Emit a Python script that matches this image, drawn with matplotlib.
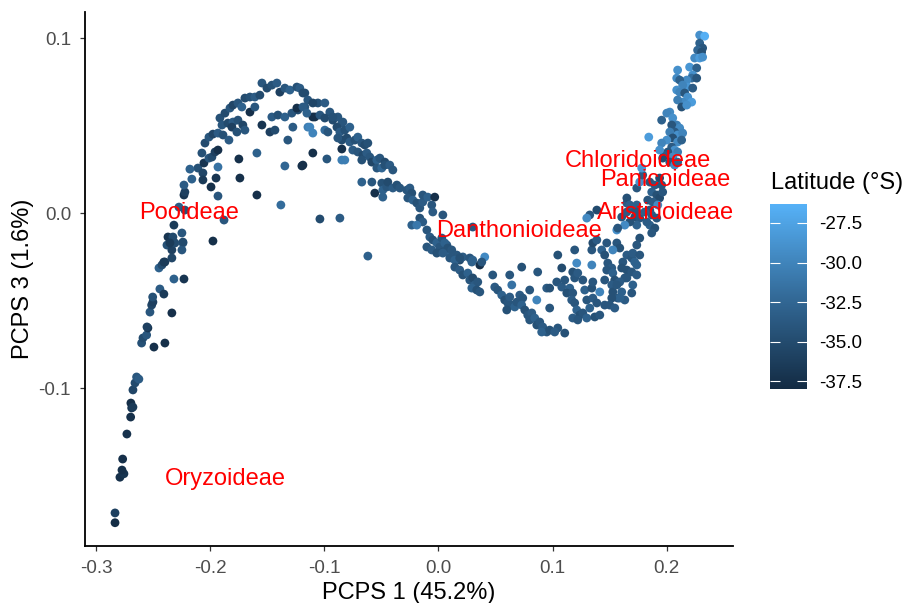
import matplotlib
matplotlib.use("Agg")
import matplotlib.pyplot as plt
import numpy as np
from matplotlib.colors import LinearSegmentedColormap, Normalize

plt.rcParams['font.family'] = ['Liberation Sans', 'DejaVu Sans']

# (PCPS1, PCPS3, latitude), grouped by region of the curve
tail = [
    (-0.2833, -0.177, -37.8), (-0.2833, -0.1714, -36.0), (-0.279, -0.151, -37.5),
    (-0.2755, -0.149, -37.0), (-0.2772, -0.1469, -37.5), (-0.2766, -0.1406, -37.5),
    (-0.2729, -0.1263, -37.3), (-0.2696, -0.1166, -37.5), (-0.2687, -0.1114, -37.0),
    (-0.2694, -0.1086, -37.6), (-0.2676, -0.1109, -36.5), (-0.2676, -0.1011, -35.5),
    (-0.2658, -0.0971, -35.0), (-0.2644, -0.0937, -34.0), (-0.2624, -0.0949, -33.5),
    (-0.26, -0.0743, -34.5), (-0.2588, -0.0714, -35.0), (-0.2556, -0.0697, -34.0),
    (-0.2545, -0.0657, -37.0), (-0.2553, -0.0651, -36.0), (-0.2492, -0.0766, -37.5),
    (-0.2396, -0.0743, -37.5), (-0.2527, -0.0566, -34.0), (-0.2512, -0.0526, -35.5),
    (-0.2501, -0.0509, -36.0), (-0.2503, -0.048, -34.5), (-0.2335, -0.0571, -37.5),
    (-0.2440, -0.0434, -33.5), (-0.2405, -0.0463, -36.5), (-0.2448, -0.0314, -33.0),
    (-0.2422, -0.0297, -35.0), (-0.2405, -0.028, -36.5), (-0.2317, -0.0377, -33.0),
    (-0.2229, -0.0377, -37.0), (-0.2378, -0.0183, -34.5), (-0.2335, -0.0211, -36.0),
    (-0.2308, -0.0171, -35.0), (-0.2247, -0.0211, -34.0), (-0.2238, -0.0171, -33.5),
]

pooid = [
    (-0.2396, -0.0280, -36.5), (-0.2335, -0.0257, -35.5), (-0.2369, -0.0137, -37.0),
    (-0.2326, -0.0137, -35.0), (-0.2352, -0.0171, -36.5), (-0.2247, -0.0114, -34.0),
    (-0.2238, -0.0166, -35.0), (-0.2317, -0.0069, -36.5), (-0.2273, 0.0034, -33.5),
    (-0.2221, 0.0017, -34.5), (-0.2229, 0.0103, -37.0), (-0.2221, 0.0120, -36.0),
    (-0.1975, -0.0160, -37.5), (-0.1878, -0.0040, -34.0), (-0.2229, 0.0160, -33.5),
    (-0.2160, 0.0194, -33.0), (-0.2107, 0.0257, -34.5), (-0.2177, 0.0251, -33.0),
    (-0.2063, 0.0229, -35.5), (-0.2054, 0.0286, -37.0), (-0.2063, 0.0189, -36.5),
    (-0.2010, 0.0314, -34.0), (-0.1984, 0.0320, -35.0), (-0.1957, 0.0349, -36.0),
    (-0.1931, 0.0360, -37.5), (-0.1931, 0.0263, -31.5), (-0.1948, 0.0200, -37.0),
    (-0.1992, 0.0149, -37.5), (-0.1931, 0.0097, -34.0), (-0.2072, 0.0343, -34.5),
    (-0.2045, 0.0400, -35.0), (-0.2010, 0.0434, -34.0), (-0.1975, 0.0451, -35.5),
    (-0.1931, 0.0457, -33.5), (-0.1887, 0.0446, -34.5), (-0.1835, 0.0417, -33.5),
]

inner = [
    (-0.1748, 0.0309, -37.5), (-0.1739, 0.0200, -37.5), (-0.1590, 0.0103, -37.5),
    (-0.1380, 0.0046, -32.0), (-0.1590, 0.0343, -33.0), (-0.1345, 0.0269, -32.5),
    (-0.1196, 0.0269, -37.5), (-0.1100, 0.0343, -37.5), (-0.0977, 0.0309, -34.0),
    (-0.1038, -0.0034, -35.0), (-0.0863, -0.0029, -33.5), (-0.0618, -0.0246, -33.0),
]

crest = [
    (-0.1914, 0.0543, -34.5), (-0.1870, 0.0571, -35.0), (-0.1826, 0.0600, -34.0),
    (-0.1800, 0.0617, -35.5), (-0.1756, 0.0629, -34.0), (-0.1722, 0.0606, -33.0),
    (-0.1695, 0.0657, -35.0), (-0.1651, 0.0663, -34.5), (-0.1608, 0.0663, -33.5),
    (-0.1564, 0.0674, -35.0), (-0.1546, 0.0743, -34.0), (-0.1502, 0.0714, -35.0),
    (-0.1459, 0.0731, -34.5), (-0.1415, 0.0743, -33.5), (-0.1389, 0.0691, -36.0),
    (-0.1345, 0.0714, -34.0), (-0.1301, 0.0703, -33.0), (-0.1240, 0.0720, -34.5),
    (-0.1214, 0.0714, -33.5), (-0.1170, 0.0686, -35.0), (-0.1896, 0.0503, -34.0),
    (-0.1844, 0.0514, -35.0), (-0.1800, 0.0520, -33.5), (-0.1756, 0.0531, -34.5),
    (-0.1713, 0.0503, -35.5), (-0.1695, 0.0474, -34.0), (-0.1809, 0.0491, -36.0),
    (-0.1765, 0.0463, -34.5), (-0.1651, 0.0577, -37.5), (-0.1608, 0.0606, -34.0),
    (-0.1546, 0.0503, -37.0), (-0.1476, 0.0463, -36.0), (-0.1432, 0.0474, -35.0),
    (-0.1459, 0.0549, -33.5), (-0.1406, 0.0560, -34.5), (-0.1345, 0.0549, -33.0),
    (-0.1284, 0.0571, -34.0), (-0.1231, 0.0589, -35.0), (-0.1170, 0.0606, -34.0),
    (-0.1240, 0.0600, -37.5), (-0.1319, 0.0417, -34.0), (-0.1275, 0.0491, -33.5),
    (-0.1143, 0.0491, -30.5), (-0.1100, 0.0457, -30.0), (-0.1100, 0.0549, -37.5),
    (-0.1056, 0.0629, -34.5), (-0.0995, 0.0629, -33.5), (-0.0995, 0.0474, -32.0),
    (-0.0951, 0.0577, -34.0), (-0.0925, 0.0531, -35.0), (-0.0881, 0.0549, -34.0),
    (-0.0846, 0.0514, -33.5), (-0.0846, 0.0417, -35.0), (-0.0846, 0.0303, -30.5),
]

descent = [
    (-0.1187, 0.0686, -35.0), (-0.1144, 0.0646, -34.0), (-0.1187, 0.0606, -33.5),
    (-0.1100, 0.0629, -35.5), (-0.1152, 0.0571, -33.0), (-0.1082, 0.0549, -37.5),
    (-0.1038, 0.0560, -34.0), (-0.0995, 0.0543, -35.0), (-0.0925, 0.0549, -34.5),
    (-0.0837, 0.0520, -34.0), (-0.1126, 0.0491, -30.0), (-0.0968, 0.0463, -34.0),
    (-0.0889, 0.0491, -35.0), (-0.0863, 0.0463, -33.5), (-0.0820, 0.0474, -34.5),
    (-0.0776, 0.0491, -33.0), (-0.1187, 0.0274, -37.5), (-0.0846, 0.0366, -37.5),
    (-0.0820, 0.0303, -30.5), (-0.0881, 0.0429, -34.0), (-0.0802, 0.0429, -35.0),
    (-0.0776, 0.0406, -33.5), (-0.0732, 0.0417, -34.5), (-0.0706, 0.0434, -33.0),
    (-0.0671, 0.0400, -34.0), (-0.0645, 0.0389, -35.0), (-0.0618, 0.0400, -34.5),
    (-0.0750, 0.0360, -33.5), (-0.0706, 0.0349, -34.0), (-0.0662, 0.0331, -35.0),
    (-0.0627, 0.0343, -33.5), (-0.0671, 0.0303, -34.5), (-0.0601, 0.0320, -34.0),
    (-0.0583, 0.0291, -35.5), (-0.0539, 0.0303, -33.0), (-0.0513, 0.0314, -34.0),
    (-0.0469, 0.0291, -35.0), (-0.0539, 0.0257, -34.0), (-0.0496, 0.0257, -32.5),
    (-0.0469, 0.0274, -34.5), (-0.0426, 0.0274, -33.5), (-0.0399, 0.0246, -34.0),
    (-0.0671, 0.0177, -33.0), (-0.0583, 0.0177, -34.0), (-0.0557, 0.0114, -37.5),
    (-0.0496, 0.0171, -34.5), (-0.0487, 0.0131, -33.0), (-0.0452, 0.0149, -34.0),
    (-0.0443, 0.0177, -35.0), (-0.0399, 0.0143, -33.5), (-0.0364, 0.0160, -34.5),
    (-0.0338, 0.0143, -34.0), (-0.0487, 0.0091, -33.0), (-0.0277, 0.0131, -34.0),
    (-0.0250, 0.0143, -33.5), (-0.0233, 0.0114, -34.5), (-0.0268, 0.0086, -34.0),
    (-0.0224, 0.0074, -33.0), (-0.0189, 0.0057, -34.5), (-0.0163, 0.0029, -34.0),
    (-0.0137, 0.0063, -33.5), (-0.0137, 0.0103, -34.0), (-0.0093, 0.0091, -33.0),
    (-0.0032, 0.0091, -37.5), (-0.0058, 0.0046, -34.0), (-0.0049, 0.0006, -33.5),
    (0.0039, -0.0011, -34.0), (-0.0163, -0.0029, -34.5), (-0.0137, -0.0051, -33.5),
    (-0.0233, -0.0069, -33.0), (-0.0189, -0.0069, -31.0), (-0.0101, -0.0097, -34.0),
    (-0.0075, -0.0137, -33.5), (-0.0049, -0.0154, -34.5), (-0.0014, -0.0171, -33.0),
    (0.0012, -0.0194, -34.0), (0.0074, -0.0183, -33.5), (0.0039, -0.0223, -34.5),
    (0.0100, -0.0229, -33.0), (0.0161, -0.0240, -34.0), (0.0187, -0.0269, -35.0),
    (0.0214, -0.0251, -33.5), (0.0275, -0.0257, -34.0), (0.0301, -0.0269, -33.0),
    (0.0363, -0.0297, -37.5), (0.0406, -0.0251, -29.5), (0.0301, -0.0080, -34.0),
    (-0.0101, -0.0194, -34.0), (-0.0058, -0.0211, -33.5), (-0.0014, -0.0229, -34.5),
]

trough = [
    (0.0030, -0.0143, -34.0), (0.0056, -0.0171, -33.0), (0.0082, -0.0200, -34.5),
    (0.0117, -0.0211, -34.0), (0.0039, -0.0229, -33.5), (0.0100, -0.0257, -34.0),
    (0.0144, -0.0269, -33.0), (0.0187, -0.0257, -34.5), (0.0144, -0.0309, -34.0),
    (0.0187, -0.0326, -33.5), (0.0214, -0.0354, -34.5), (0.0258, -0.0343, -33.0),
    (0.0275, -0.0383, -34.0), (0.0301, -0.0371, -35.0), (0.0319, -0.0411, -33.5),
    (0.0345, -0.0394, -34.0), (0.0293, -0.0429, -33.0), (0.0336, -0.0440, -34.5),
    (0.0363, -0.0451, -34.0), (0.0380, -0.0280, -34.0), (0.0293, -0.0280, -33.0),
    (0.0476, -0.0354, -34.0), (0.0494, -0.0423, -33.5), (0.0520, -0.0440, -34.0),
    (0.0555, -0.0469, -33.0), (0.0581, -0.0497, -34.5), (0.0608, -0.0514, -34.0),
    (0.0625, -0.0480, -33.5), (0.0643, -0.0526, -34.0), (0.0669, -0.0537, -33.0),
    (0.0599, -0.0554, -34.5), (0.0687, -0.0509, -34.0), (0.0625, -0.0354, -34.0),
    (0.0643, -0.0411, -31.5), (0.0730, -0.0309, -34.5), (0.0713, -0.0469, -33.5),
    (0.0739, -0.0486, -34.0), (0.0730, -0.0526, -33.0), (0.0757, -0.0554, -34.5),
    (0.0783, -0.0583, -34.0), (0.0818, -0.0571, -33.5), (0.0800, -0.0611, -34.0),
    (0.0844, -0.0600, -33.0), (0.0862, -0.0640, -34.5), (0.0888, -0.0623, -34.0),
    (0.0914, -0.0651, -33.5), (0.0949, -0.0680, -34.0), (0.0905, -0.0680, -33.0),
    (0.0975, -0.0669, -34.5), (0.0800, -0.0440, -34.0), (0.0862, -0.0497, -30.0),
    (0.0870, -0.0337, -34.0), (0.0949, -0.0429, -33.5), (0.0975, -0.0429, -34.5),
    (0.0975, -0.0543, -34.0), (0.1046, -0.0240, -34.5), (0.1081, -0.0314, -35.0),
    (0.1037, -0.0394, -34.0), (0.1081, -0.0423, -33.5), (0.1107, -0.0383, -34.0),
    (0.1151, -0.0429, -33.0), (0.1125, -0.0457, -34.5), (0.1177, -0.0457, -34.0),
    (0.1168, -0.0497, -33.5), (0.1194, -0.0514, -34.0), (0.1212, -0.0554, -33.0),
    (0.1238, -0.0583, -34.5), (0.1265, -0.0571, -34.0), (0.1177, -0.0600, -33.5),
    (0.1221, -0.0611, -34.0), (0.1300, -0.0600, -33.0), (0.1107, -0.0686, -34.5),
    (0.1046, -0.0657, -34.0), (0.1019, -0.0680, -33.5), (0.1194, -0.0211, -34.0),
    (0.1212, -0.0286, -29.5), (0.1177, -0.0337, -34.5), (0.1194, -0.0371, -34.0),
    (0.1221, -0.0343, -33.5), (0.1265, -0.0383, -34.0), (0.1282, -0.0440, -33.0),
    (0.1344, -0.0429, -34.5), (0.1300, -0.0497, -34.0), (0.1353, -0.0486, -33.5),
    (0.1388, -0.0514, -34.0), (0.1326, -0.0543, -33.0), (0.1370, -0.0594, -34.5),
    (0.1414, -0.0583, -34.0), (0.1344, -0.0211, -34.0), (0.1353, -0.0171, -35.0),
    (0.1388, -0.0154, -33.5), (0.1475, -0.0171, -34.0), (0.1431, -0.0211, -33.0),
    (0.1457, -0.0240, -34.5), (0.1484, -0.0286, -34.0), (0.1519, -0.0314, -33.5),
    (0.1475, -0.0326, -34.0), (0.1528, -0.0343, -33.0), (0.1545, -0.0383, -34.5),
    (0.1457, -0.0383, -34.0), (0.1519, -0.0411, -33.5), (0.1571, -0.0400, -34.0),
    (0.1606, -0.0451, -33.0), (0.1528, -0.0451, -34.5), (0.1571, -0.0486, -34.0),
    (0.1633, -0.0497, -33.5), (0.1694, -0.0457, -34.0), (0.1703, -0.0411, -33.0),
    (0.1563, -0.0097, -29.0), (0.1563, -0.0171, -34.0), (0.1589, -0.0200, -34.5),
    (0.1528, -0.0211, -30.0), (0.1616, -0.0280, -34.0), (0.1651, -0.0240, -33.5),
    (0.1694, -0.0257, -34.0), (0.1738, -0.0297, -33.0), (0.1651, -0.0326, -34.5),
    (0.1694, -0.0337, -34.0), (0.1738, -0.0354, -33.5), (0.1651, -0.0371, -34.0),
    (0.1326, -0.0011, -34.0), (0.1388, 0.0017, -35.0), (0.1606, -0.0023, -34.0),
    (0.1651, 0.0057, -33.5), (0.1694, 0.0029, -34.0), (0.1738, 0.0046, -33.0),
    (0.1720, -0.0023, -34.5),
]

rise = [
    (0.2289, 0.1017, -29.0), (0.2333, 0.1011, -26.5), (0.2289, 0.0971, -33.0),
    (0.2315, 0.0943, -34.0), (0.2271, 0.0931, -32.5), (0.2306, 0.0920, -34.5),
    (0.2245, 0.0886, -29.5), (0.2289, 0.0886, -28.0), (0.2315, 0.0891, -29.0),
    (0.2201, 0.0834, -28.5), (0.2263, 0.0829, -33.0), (0.2228, 0.0789, -29.0),
    (0.2219, 0.0771, -32.0), (0.2176, 0.0760, -29.5), (0.2263, 0.0771, -34.0),
    (0.2184, 0.0720, -28.5), (0.2228, 0.0714, -33.5), (0.2096, 0.0817, -29.0),
    (0.2088, 0.0771, -29.5), (0.2114, 0.0760, -33.0), (0.2140, 0.0731, -30.0),
    (0.2088, 0.0703, -29.0), (0.2114, 0.0691, -30.0), (0.2158, 0.0686, -34.0),
    (0.2184, 0.0663, -29.0), (0.2219, 0.0634, -28.0), (0.2140, 0.0634, -29.5),
    (0.2096, 0.0646, -30.5), (0.2131, 0.0606, -34.5), (0.2176, 0.0617, -29.0),
    (0.2027, 0.0577, -29.5), (0.2001, 0.0571, -30.0), (0.1956, 0.0531, -33.0),
    (0.2053, 0.0543, -29.0), (0.2088, 0.0503, -30.5), (0.2044, 0.0503, -34.0),
    (0.2114, 0.0486, -29.5), (0.2070, 0.0463, -33.5), (0.2096, 0.0446, -29.0),
    (0.2140, 0.0457, -30.0), (0.2027, 0.0463, -30.5), (0.2053, 0.0429, -34.5),
    (0.2096, 0.0406, -29.5), (0.2131, 0.0417, -33.0), (0.2001, 0.0417, -29.0),
    (0.1956, 0.0400, -30.0), (0.2044, 0.0377, -33.5), (0.2070, 0.0360, -29.0),
    (0.2010, 0.0349, -34.0), (0.2096, 0.0349, -30.5), (0.2053, 0.0320, -29.5),
    (0.1982, 0.0331, -33.5), (0.1938, 0.0360, -29.0), (0.1965, 0.0314, -35.0),
    (0.2027, 0.0291, -34.0), (0.2070, 0.0274, -29.5), (0.2096, 0.0291, -33.0),
    (0.1843, 0.0434, -28.0), (0.1852, 0.0177, -34.0), (0.1896, 0.0160, -33.5),
    (0.1938, 0.0200, -35.0), (0.1956, 0.0160, -34.0), (0.1869, 0.0120, -33.0),
    (0.1913, 0.0103, -34.5), (0.1938, 0.0086, -35.0), (0.1834, 0.0074, -34.0),
    (0.1878, 0.0063, -33.5), (0.1965, 0.0120, -34.0), (0.1922, 0.0046, -29.5),
    (0.1651, 0.0086, -34.5), (0.1677, 0.0046, -33.0), (0.1738, 0.0143, -34.0),
    (0.1764, 0.0177, -29.0), (0.1790, 0.0217, -33.5), (0.1781, 0.0257, -28.5),
    (0.1852, 0.0017, -34.0), (0.1869, -0.0011, -33.5), (0.1913, -0.0029, -34.0),
    (0.1852, -0.0069, -33.0), (0.1896, -0.0086, -34.5), (0.1869, -0.0114, -34.0),
    (0.1826, -0.0051, -33.5), (0.1764, -0.0029, -34.0), (0.1738, -0.0069, -33.0),
    (0.1677, -0.0051, -34.5), (0.1633, -0.0069, -29.5), (0.1571, -0.0086, -34.0),
    (0.1651, 0.0006, -33.5), (0.1738, 0.0006, -34.0), (0.1808, 0.0006, -33.0),
    (0.1764, -0.0143, -34.5), (0.1738, -0.0183, -34.0), (0.1703, -0.0229, -33.5),
    (0.1764, -0.0240, -34.0), (0.1720, -0.0280, -33.0), (0.1606, -0.0314, -34.5),
    (0.1633, -0.0371, -34.0), (0.1589, -0.0394, -33.5), (0.1563, -0.0411, -34.0),
    (0.1589, -0.0486, -33.0), (0.1519, -0.0486, -34.5), (0.1501, -0.0526, -34.0),
    (0.1545, -0.0543, -33.5), (0.1344, -0.0297, -30.0), (0.1353, -0.0394, -34.0),
    (0.1414, -0.0451, -30.0), (0.1457, -0.0526, -34.0), (0.1300, -0.0029, -29.5),
]

subfamilies = ["Pooideae", "Oryzoideae", "Danthonioideae", "Chloridoideae",
               "Panicoideae", "Aristidoideae"]
label_x = [-0.218, -0.187, 0.071, 0.175, 0.199, 0.199]
label_y = [0.000, -0.152, -0.010, 0.030, 0.019, 0.000]

colorbar_ticks = [-27.5, -30.0, -32.5, -35.0, -37.5]

segments = [tail, pooid, inner, crest, descent, trough, rise]
pts = np.array([p for seg in segments for p in seg])
pc1, pc3, lat = pts[:, 0], pts[:, 1], pts[:, 2]

cmap = LinearSegmentedColormap.from_list("gg", ["#132B43", "#336A98", "#56B1F7"])
norm = Normalize(vmin=-38.0, vmax=-26.3)

W, H = 904, 603
fig = plt.figure(figsize=(W / 100, H / 100), dpi=100)
ax = fig.add_axes([85 / W, 1 - 546 / H, (733 - 85) / W, (546 - 12) / H])

sc = ax.scatter(pc1, pc3, c=lat, cmap=cmap, norm=norm, s=40, linewidths=0, zorder=2)

for name, lx, ly in zip(subfamilies, label_x, label_y):
    ax.text(lx, ly, name, color="red", fontsize=17, ha="center", va="center", zorder=3)

ax.set_xlim(-0.3096, 0.2581)
ax.set_ylim(-0.1903, 0.1149)
ax.set_xticks([-0.3, -0.2, -0.1, 0.0, 0.1, 0.2])
ax.set_yticks([-0.1, 0.0, 0.1])
ax.set_xticklabels(["-0.3", "-0.2", "-0.1", "0.0", "0.1", "0.2"])
ax.set_yticklabels(["-0.1", "0.0", "0.1"])
for s in ["top", "right"]:
    ax.spines[s].set_visible(False)
for s in ["left", "bottom"]:
    ax.spines[s].set_linewidth(1.3)
    ax.spines[s].set_color("black")
ax.tick_params(axis="both", length=3.5, width=0.9, color="#333333",
               labelsize=13.5, labelcolor="#4D4D4D", pad=6.5)
ax.set_xlabel("PCPS 1 (45.2%)", fontsize=17, labelpad=4)
ax.set_ylabel("PCPS 3 (1.6%)", fontsize=17, labelpad=3)

cax = fig.add_axes([770 / W, 1 - 389 / H, 37 / W, 185 / H])
cb = fig.colorbar(sc, cax=cax)
cb.outline.set_visible(False)
cb.set_ticks(colorbar_ticks)
cb.set_ticklabels([f"{t:.1f}" for t in colorbar_ticks])
cax.yaxis.set_ticks_position("both")
cax.tick_params(axis="y", direction="in", length=7, width=0.8, color="white",
                labelsize=13.5, labelcolor="black", pad=9, labelleft=False, labelright=True)
fig.text(771 / W, 1 - 183 / H, "Latitude (°S)", fontsize=17, ha="left", va="center")

fig.savefig("out.png", dpi=100)
